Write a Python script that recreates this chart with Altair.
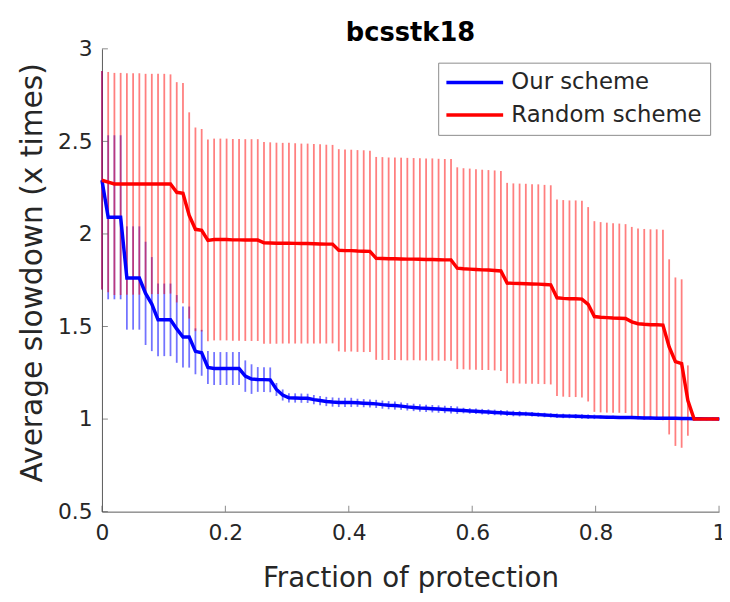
import altair as alt
import pandas as pd

# ---------------- data ----------------
series_names = ["Our scheme", "Random scheme"]
fraction = [round(i / 99, 4) for i in range(100)]

red_mean = [2.29, 2.28, 2.27, 2.27, 2.27, 2.27, 2.27, 2.27, 2.27, 2.27, 2.27, 2.27,
            2.225, 2.22, 2.10, 2.025, 2.02,
            1.965, 1.97, 1.97, 1.97, 1.968, 1.968, 1.967, 1.967, 1.967,
            1.952, 1.951, 1.95, 1.95, 1.95, 1.949, 1.948, 1.948, 1.947, 1.946, 1.945, 1.945,
            1.912, 1.91, 1.91, 1.908, 1.907, 1.906,
            1.868, 1.867, 1.866, 1.866, 1.865, 1.864, 1.864, 1.863, 1.862, 1.862, 1.861, 1.86, 1.86,
            1.815, 1.812, 1.81, 1.808, 1.806, 1.805, 1.803, 1.80,
            1.735, 1.733, 1.732, 1.731, 1.73, 1.729, 1.727, 1.725,
            1.655, 1.652, 1.65, 1.65, 1.648,
            1.62,
            1.554, 1.55, 1.548, 1.546, 1.545, 1.543,
            1.525,
            1.515, 1.512, 1.51, 1.51, 1.508,
            1.39, 1.31, 1.30, 1.10,
            1.0, 1.0, 1.0, 1.0, 1.0]

red_err = [0.59, 0.595, 0.60, 0.60, 0.598, 0.598, 0.598, 0.595, 0.595, 0.595, 0.595, 0.592,
           0.595, 0.595, 0.557, 0.55, 0.547,
           0.545, 0.545, 0.545, 0.545, 0.545, 0.545, 0.545, 0.545, 0.545,
           0.545, 0.544, 0.543, 0.542, 0.542, 0.541, 0.540, 0.540, 0.539, 0.538, 0.537, 0.536,
           0.546, 0.546, 0.545, 0.545, 0.545, 0.544,
           0.548, 0.548, 0.547, 0.547, 0.547, 0.547, 0.546, 0.546, 0.546, 0.546, 0.545, 0.545, 0.545,
           0.545, 0.543, 0.543, 0.542, 0.541, 0.54, 0.54, 0.54,
           0.541, 0.54, 0.54, 0.54, 0.539, 0.539, 0.538, 0.538,
           0.531, 0.531, 0.531, 0.531, 0.531,
           0.525,
           0.515, 0.514, 0.513, 0.512, 0.511, 0.51,
           0.513,
           0.515, 0.515, 0.515, 0.515, 0.515,
           0.473, 0.455, 0.455, 0.19,
           0.0, 0.0, 0.0, 0.0, 0.0]

blue_mean = [2.29, 2.09, 2.09, 2.09, 1.762, 1.762, 1.762, 1.679, 1.621,
             1.536, 1.536, 1.536, 1.487, 1.443, 1.443, 1.366, 1.358, 1.279,
             1.273, 1.273, 1.273, 1.273, 1.273, 1.232, 1.216, 1.214, 1.213, 1.212,
             1.16, 1.13, 1.115, 1.114, 1.113, 1.112,
             1.105, 1.1, 1.095, 1.092, 1.09, 1.09, 1.09,
             1.088, 1.086, 1.084, 1.082, 1.078, 1.075, 1.073,
             1.07, 1.066, 1.063, 1.06, 1.058, 1.056, 1.054, 1.052, 1.05, 1.048,
             1.046, 1.044, 1.042, 1.04, 1.038, 1.036, 1.034, 1.032, 1.03, 1.029,
             1.028, 1.026, 1.024, 1.022, 1.02, 1.018, 1.017, 1.016, 1.015, 1.014, 1.013, 1.012,
             1.011, 1.01, 1.01, 1.009, 1.008, 1.008, 1.007, 1.006, 1.006, 1.005,
             1.005, 1.004, 1.004, 1.003, 1.003, 1.002, 1.002, 1.001, 1.001, 1.0]

blue_err = [0.59, 0.443, 0.443, 0.443, 0.279, 0.279, 0.279, 0.279, 0.254,
            0.196, 0.196, 0.196, 0.183, 0.165, 0.165, 0.124, 0.124, 0.089,
            0.089, 0.089, 0.089, 0.089, 0.089, 0.085, 0.08, 0.067, 0.067, 0.067,
            0.035, 0.03, 0.025, 0.025, 0.025, 0.025,
            0.025, 0.025, 0.025, 0.025, 0.025, 0.025, 0.025,
            0.022, 0.022, 0.022, 0.022, 0.022, 0.022, 0.022,
            0.02, 0.02, 0.02, 0.02, 0.02, 0.02, 0.02, 0.02, 0.02, 0.02,
            0.015, 0.015, 0.015, 0.015, 0.015, 0.015, 0.015, 0.015, 0.015, 0.015,
            0.012, 0.012, 0.012, 0.012, 0.012, 0.012, 0.012, 0.012, 0.012, 0.012, 0.012, 0.012,
            0.008, 0.008, 0.008, 0.008, 0.008, 0.008, 0.008, 0.008, 0.008, 0.008,
            0.008, 0.008, 0.008, 0.008, 0.008, 0.008, 0.008, 0.008, 0.008, 0.008]

x_ticks = [0, 0.2, 0.4, 0.6, 0.8, 1]
y_ticks = [0.5, 1, 1.5, 2, 2.5, 3]

# ---------------- table ----------------
rows = []
for name, means, errs in [(series_names[0], blue_mean, blue_err),
                          (series_names[1], red_mean, red_err)]:
    for xv, m, e in zip(fraction, means, errs):
        rows.append({"x": xv, "mean": m, "lo": m - e, "hi": m + e, "series": name})
df = pd.DataFrame(rows)

FONT = "DejaVu Sans"
xs = alt.Scale(domain=[0, 1], nice=False, zero=False)
ys = alt.Scale(domain=[0.5, 3], nice=False, zero=False)

x_axis = alt.Axis(values=x_ticks, format="~g", title="Fraction of protection",
                  labelPadding=11, titlePadding=22, labelFlush=False, titleFontSize=28)
y_axis = alt.Axis(values=y_ticks, format="~g", title="Average slowdown (x times)",
                  labelPadding=10, titlePadding=10, labelFlush=False, titleFontSize=30,
                  titleY=226)

base = alt.Chart(df)

blue_bars = base.transform_filter(alt.datum.series == series_names[0]).mark_rule(
    color="#0000ff", strokeWidth=1.8, opacity=0.55
).encode(
    x=alt.X("x:Q", scale=xs, axis=x_axis),
    y=alt.Y("lo:Q", scale=ys, axis=y_axis),
    y2="hi:Q",
)

red_bars = base.transform_filter(alt.datum.series == series_names[1]).mark_rule(
    color="#ff0000", strokeWidth=1.8, opacity=0.5
).encode(
    x=alt.X("x:Q", scale=xs),
    y=alt.Y("lo:Q", scale=ys),
    y2="hi:Q",
)

lines = base.mark_line(strokeWidth=3.5).encode(
    x=alt.X("x:Q", scale=xs),
    y=alt.Y("mean:Q", scale=ys),
    color=alt.Color(
        "series:N",
        scale=alt.Scale(domain=series_names, range=["#0000ff", "#ff0000"]),
        legend=alt.Legend(
            title=None, orient="none", legendX=340, legendY=14, direction="vertical",
            symbolType="M-2.8,0H2.8", symbolSize=420, symbolStrokeWidth=3.5,
            symbolOffset=17, labelOffset=25, labelFont=FONT, labelFontSize=23,
            labelColor="#262626", rowPadding=9, padding=8,
            strokeColor="#8c8c8c", fillColor="white", cornerRadius=0,
            labelLimit=400,
        ),
    ),
)

xtick_df = pd.DataFrame({"t": x_ticks})
ytick_df = pd.DataFrame({"t": y_ticks})

x_inward = alt.Chart(xtick_df).mark_tick(
    orient="vertical", size=6, thickness=1, yOffset=-3, color="#595959"
).encode(x=alt.X("t:Q", scale=xs), y=alt.datum(0.5, scale=ys))

y_inward = alt.Chart(ytick_df).mark_tick(
    orient="horizontal", size=6, thickness=1, xOffset=3, color="#595959"
).encode(y=alt.Y("t:Q", scale=ys), x=alt.datum(0, scale=xs))

chart = alt.layer(blue_bars, red_bars, lines, x_inward, y_inward).properties(
    width=624, height=468,
    title=alt.TitleParams("bcsstk18", font=FONT, fontSize=26, fontWeight="bold",
                          color="black", anchor="middle", frame="group", offset=9, dy=17),
    autosize=alt.AutoSizeParams(type="none"),
    padding={"left": 95, "top": 38, "right": 3, "bottom": 80},
).configure_view(stroke=None).configure_axis(
    grid=False, ticks=False, domainColor="#595959", domainWidth=1,
    labelFont=FONT, labelFontSize=22, labelColor="#262626",
    titleFont=FONT, titleFontWeight="normal", titleColor="#262626",
)

chart.save("out.html", embed_options={"renderer": "svg", "actions": False})
